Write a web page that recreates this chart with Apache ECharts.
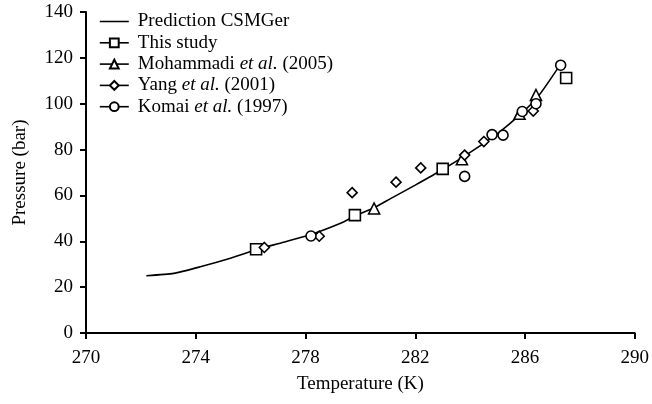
<!DOCTYPE html>
<html>
<head>
<meta charset="utf-8">
<script src="https://cdn.jsdelivr.net/npm/echarts@6/dist/echarts.min.js"></script>
<style>
html, body { margin: 0; padding: 0; background: #fff; }
#chart { width: 652px; height: 404px; }
</style>
</head>
<body>
<div id="chart"></div>
<script>
var xTicks = [270, 274, 278, 282, 286, 290];
var yTicks = [0, 20, 40, 60, 80, 100, 120, 140];

// [temperature K, pressure bar]
var predictionCSMGer = [
    [272.2, 25], [273.2, 26], [274.2, 29], [275.2, 32.4], [276.2, 36.3], [277.2, 39.6],
    [278.2, 43.0], [279.3, 48.0], [279.8, 51.0], [280.5, 54.6], [281.1, 58.6], [282, 64.5],
    [283, 71.3], [284, 78.8], [285, 87], [285.8, 95], [286.5, 103.5], [287.2, 115.5]
];
var thisStudy = [[276.2, 36.5], [279.8, 51.4], [283.0, 71.6], [287.5, 111.2]];
var mohammadi = [[280.5, 54.3], [283.7, 75.8], [285.8, 95.6], [286.4, 103.8]];
var yang = [[276.5, 37.3], [278.5, 42.2], [279.7, 61.2], [281.3, 65.8], [282.2, 72.0],
    [283.8, 77.6], [284.5, 83.5], [286.3, 96.8]];
var komai = [[278.2, 42.3], [283.8, 68.3], [284.8, 86.5], [285.2, 86.3], [285.9, 96.6],
    [286.4, 100.0], [287.3, 116.8]];

var serif = '"Liberation Serif", "DejaVu Serif", serif';
var chart = echarts.init(document.getElementById('chart'));

function markerSeries(name, data, symbol, size) {
    return {
        name: name,
        type: 'line',
        data: data,
        symbol: symbol,
        symbolSize: size,
        showSymbol: true,
        lineStyle: { width: 0, opacity: 0 },
        itemStyle: { color: '#fff', borderColor: '#000', borderWidth: 1.6 },
        z: 3
    };
}

var legendLine = { width: 1.6, color: '#000', opacity: 1 };

var option = {
    animation: false,
    backgroundColor: '#fff',
    grid: { left: 86, right: 14, top: 12, bottom: 71 },
    legend: {
        orient: 'vertical',
        left: 94,
        top: 7,
        itemWidth: 29,
        itemHeight: 11,
        itemGap: 2.3,
        symbolKeepAspect: true,
        textStyle: {
            fontFamily: serif,
            fontSize: 19,
            color: '#000',
            rich: {
                s: { width: 4 },
                n: { fontFamily: serif, fontSize: 19, lineHeight: 19, color: '#000' },
                i: { fontFamily: serif, fontSize: 19, lineHeight: 19, color: '#000', fontStyle: 'italic' }
            }
        },
        formatter: function (name) {
            var m = name.match(/^(.*?)(et al\.)(.*)$/);
            if (!m) return '{s|}{n|' + name + '}';
            return '{s|}{n|' + m[1] + '}{i|' + m[2] + '}{n|' + m[3] + '}';
        },
        data: [
            {
                name: 'Prediction CSMGer',
                icon: 'path://M0,0 L30,0 L30,1.6 L0,1.6 Z',
                itemStyle: { color: '#000', borderWidth: 0 }
            },
            { name: 'This study', lineStyle: legendLine },
            { name: 'Mohammadi et al. (2005)', lineStyle: legendLine },
            { name: 'Yang et al. (2001)', lineStyle: legendLine },
            { name: 'Komai et al. (1997)', lineStyle: legendLine }
        ]
    },
    xAxis: {
        type: 'value',
        min: xTicks[0],
        max: xTicks[xTicks.length - 1],
        interval: 4,
        name: 'Temperature (K)',
        nameLocation: 'middle',
        nameGap: 42,
        nameTextStyle: { fontFamily: serif, fontSize: 19, color: '#000' },
        axisLine: { lineStyle: { color: '#000', width: 2 } },
        axisTick: { show: true, length: 6, inside: false, lineStyle: { color: '#000', width: 2 } },
        axisLabel: { fontFamily: serif, fontSize: 19, color: '#000', margin: 16 },
        splitLine: { show: false }
    },
    yAxis: {
        type: 'value',
        min: yTicks[0],
        max: yTicks[yTicks.length - 1],
        interval: 20,
        name: 'Pressure (bar)',
        nameLocation: 'middle',
        nameGap: 56,
        nameRotate: 90,
        nameTextStyle: { fontFamily: serif, fontSize: 19, color: '#000' },
        axisLine: { show: true, lineStyle: { color: '#000', width: 2 } },
        axisTick: { show: true, length: 6, inside: false, lineStyle: { color: '#000', width: 2 } },
        axisLabel: { fontFamily: serif, fontSize: 19, color: '#000', margin: 13 },
        splitLine: { show: false }
    },
    series: [
        {
            name: 'Prediction CSMGer',
            type: 'line',
            data: predictionCSMGer,
            smooth: 0.2,
            showSymbol: false,
            symbol: 'none',
            lineStyle: { color: '#000', width: 1.6 },
            itemStyle: { color: '#000' },
            z: 2
        },
        markerSeries('This study', thisStudy, 'rect', 11),
        markerSeries('Mohammadi et al. (2005)', mohammadi, 'triangle', 11),
        markerSeries('Yang et al. (2001)', yang, 'diamond', 10),
        markerSeries('Komai et al. (1997)', komai, 'circle', 10)
    ]
};
chart.setOption(option);
</script>
</body>
</html>
